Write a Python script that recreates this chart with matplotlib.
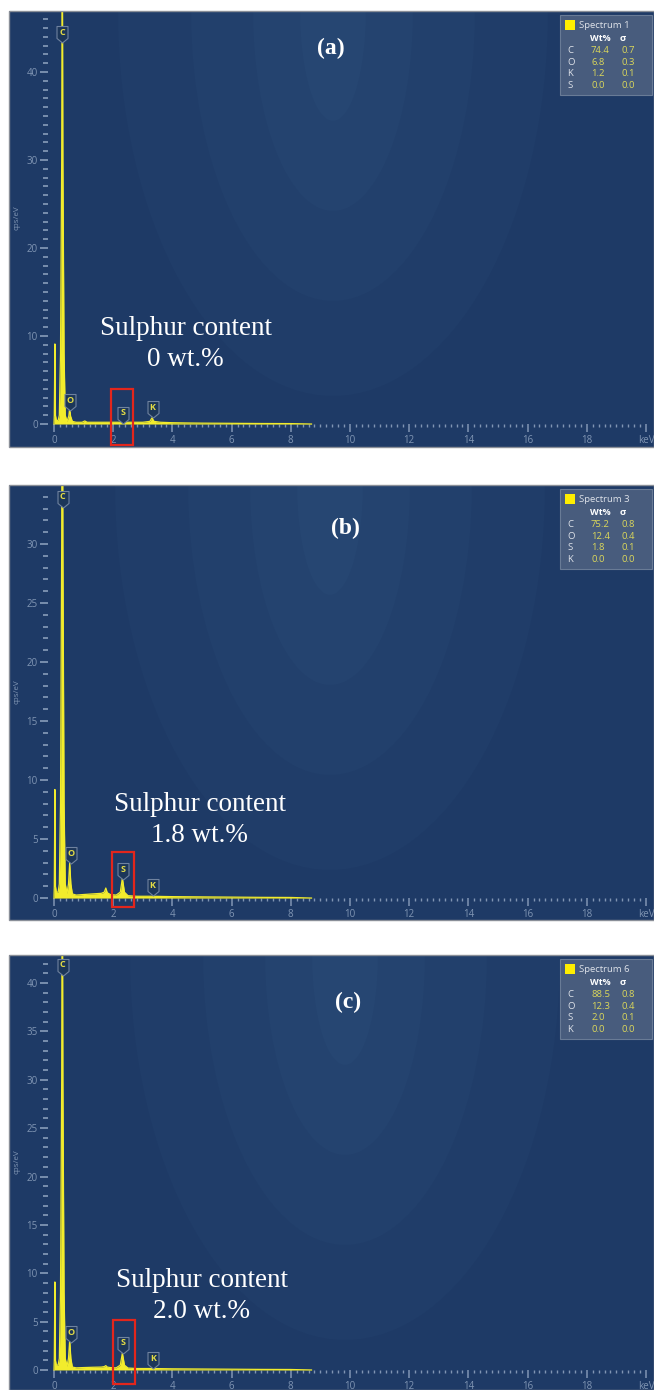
import numpy as np
import matplotlib.pyplot as plt
from matplotlib.patches import Rectangle, Ellipse
from matplotlib.path import Path
from matplotlib.ticker import FixedLocator

# widma EDS (keV, cps/eV)
energy_a = [0.00, 0.01, 0.03, 0.05, 0.08, 0.14, 0.18, 0.22, 0.26, 0.28, 0.30, 0.34, 0.38, 0.44, 0.50, 0.53, 0.56, 0.62, 0.75,
            0.95, 1.04, 1.12, 1.40, 1.80, 2.20, 2.60, 3.00, 3.24, 3.31, 3.38, 3.60, 4.00, 4.50, 5.00, 6.00, 7.00, 8.00, 8.70]
counts_a = [0.0, 1.0, 9.1, 1.0, 0.4, 0.4, 1.0, 8.0, 30.0, 60.0, 30.0, 8.0, 1.0, 0.3, 0.9, 1.8, 0.9, 0.3, 0.2,
            0.2, 0.35, 0.2, 0.2, 0.2, 0.2, 0.2, 0.2, 0.3, 0.7, 0.3, 0.2, 0.15, 0.12, 0.1, 0.08, 0.06, 0.05, 0.0]

energy_b = [0.00, 0.01, 0.03, 0.05, 0.08, 0.14, 0.18, 0.22, 0.26, 0.28, 0.30, 0.34, 0.38, 0.44, 0.49, 0.53, 0.57, 0.62, 0.75,
            1.00, 1.30, 1.60, 1.70, 1.75, 1.80, 1.90, 2.10, 2.24, 2.31, 2.38, 2.50, 2.80, 3.31, 4.00, 5.00, 6.00, 7.00, 8.00, 8.70]
counts_b = [0.0, 1.0, 9.2, 1.0, 0.5, 0.5, 1.2, 8.0, 30.0, 60.0, 30.0, 8.0, 1.2, 0.4, 1.2, 3.0, 1.2, 0.35, 0.25,
            0.3, 0.35, 0.4, 0.5, 0.85, 0.45, 0.3, 0.25, 0.5, 1.7, 0.5, 0.2, 0.15, 0.15, 0.12, 0.1, 0.08, 0.06, 0.05, 0.0]

energy_c = energy_b
counts_c = [0.0, 1.0, 9.1, 1.0, 0.5, 0.5, 1.2, 8.0, 30.0, 60.0, 30.0, 8.0, 1.2, 0.4, 1.2, 3.1, 1.2, 0.3, 0.22,
            0.25, 0.28, 0.3, 0.35, 0.45, 0.3, 0.25, 0.22, 0.5, 1.75, 0.5, 0.2, 0.15, 0.15, 0.12, 0.1, 0.08, 0.06, 0.05, 0.0]

# zakresy osi y i kroki podziałki
y_limits = [(-2.61, 46.93), (-1.86, 35.0), (-2.07, 42.9)]
y_major = [10, 5, 5]

# etykiety pików (pierwiastek, energia, wysokość znacznika)
tag_elements = ['C', 'O', 'S', 'K']
tag_energy = [[0.28, 0.54, 2.32, 3.33], [0.29, 0.56, 2.32, 3.33], [0.29, 0.57, 2.33, 3.34]]
tag_height = [[44.5, 2.7, 1.3, 1.9], [34.0, 3.8, 2.45, 1.1], [41.9, 3.9, 2.8, 1.2]]

# czerwone ramki wokół piku S (x0, x1, y0, y1)
red_boxes = [(1.93, 2.67, -2.4, 4.0), (1.96, 2.70, -0.76, 3.9), (2.0, 2.74, -1.45, 5.2)]

panel_labels = ['(a)', '(b)', '(c)']
sulphur_values = ['0 wt.%', '1.8 wt.%', '2.0 wt.%']
spectrum_names = ['Spectrum 1', 'Spectrum 3', 'Spectrum 6']
wt_elements = [['C', 'O', 'K', 'S'], ['C', 'O', 'S', 'K'], ['C', 'O', 'S', 'K']]
wt_values = [['74.4', '6.8', '1.2', '0.0'], ['75.2', '12.4', '1.8', '0.0'], ['88.5', '12.3', '2.0', '0.0']]
wt_sigma = [['0.7', '0.3', '0.1', '0.0'], ['0.8', '0.4', '0.1', '0.0'], ['0.8', '0.4', '0.1', '0.0']]

energies = [energy_a, energy_b, energy_c]
counts = [counts_a, counts_b, counts_c]

# położenie paneli w pikselach (góra, dół)
panel_px = [(11, 447), (485, 920), (955, 1390)]
text_x = [0.274, 0.296, 0.299]
text_y = [0.236, 0.23, 0.216]
label_xy = [(0.499, 0.915), (0.522, 0.899), (0.526, 0.89)]
ring_cx = [324, 321, 336]

bg_colors = ['#1e3a66', '#203d69', '#22406c', '#24436f', '#264672']
tick_c = '#8095b3'
yellow = '#f2ec2c'
ui_font = ['Open Sans', 'DejaVu Sans']

W_FIG, H_FIG = 654, 1390
fig = plt.figure(figsize=(6.54, 13.9), dpi=100)
fig.patch.set_facecolor('white')

# kształt znacznika piku (prostokąt ze szpicem)
tag_verts = [(-5.5, 6), (5.5, 6), (5.5, -6), (0, -10.5), (-5.5, -6), (-5.5, 6), (0, 0)]
tag_codes = [Path.MOVETO] + [Path.LINETO] * 5 + [Path.CLOSEPOLY]
tag_path = Path(tag_verts, tag_codes)

for i in range(3):
    top, bot = panel_px[i]
    H = bot - top
    W = 645
    pos = [9 / W_FIG, 1 - bot / H_FIG, W / W_FIG, H / H_FIG]

    # tło z jaśniejszymi elipsami
    bg = fig.add_axes(pos, zorder=0)
    bg.set_xlim(0, W)
    bg.set_ylim(H, 0)
    bg.axis('off')
    bg.add_patch(Rectangle((0, 0), W, H, fc=bg_colors[0], ec='none'))
    rings = [(215, 385), (142, 290), (80, 200), (33, 110)]
    for k, (rx, ry) in enumerate(rings):
        bg.add_patch(Ellipse((ring_cx[i], 0), 2 * rx, 2 * ry, fc=bg_colors[k + 1], ec='none'))

    ax = fig.add_axes(pos, zorder=1)
    ax.set_facecolor('none')
    ax.set_xlim(-1.52, 20.27)
    ax.set_ylim(*y_limits[i])

    ax.fill_between(energies[i], 0, counts[i], color=yellow, lw=0, zorder=3)
    ax.plot(energies[i], counts[i], color=yellow, lw=0.9, zorder=3)

    for sp in ax.spines.values():
        sp.set_visible(False)
    ax.spines['left'].set_position(('data', -0.2))
    ax.spines['bottom'].set_position(('data', 0))

    ymax = y_limits[i][1]
    ax.yaxis.set_major_locator(FixedLocator(np.arange(0, ymax, y_major[i])))
    ax.yaxis.set_minor_locator(FixedLocator(np.arange(0, ymax, 1)))
    xt = np.arange(0, 21, 2)
    ax.set_xticks(xt)
    ax.set_xticklabels([str(v) for v in xt[:-1]] + ['keV'])
    ax.xaxis.set_minor_locator(FixedLocator(np.arange(0, 20.01, 0.2)))

    ax.tick_params(axis='y', which='major', direction='out', length=6, width=1.3, color=tick_c,
                   labelsize=7, labelcolor=tick_c, pad=1.5)
    ax.tick_params(axis='y', which='minor', direction='out', length=3.5, width=1.3, color=tick_c)
    ax.tick_params(axis='x', which='major', direction='out', length=5.5, width=1.1, color=tick_c,
                   labelsize=7, labelcolor=tick_c, pad=2.5)
    ax.tick_params(axis='x', which='minor', direction='out', length=2.5, width=1.0, color=tick_c)
    for lab in ax.get_xticklabels() + ax.get_yticklabels():
        lab.set_family(ui_font)

    ax.text(8 / W, 0.525, 'cps/eV', transform=ax.transAxes, rotation=90, fontsize=5.8, color=tick_c,
            ha='center', va='center', family=ui_font)

    # znaczniki pierwiastków
    for el, e, h in zip(tag_elements, tag_energy[i], tag_height[i]):
        ax.plot([e], [h], marker=tag_path, markersize=15.1, mfc='#1c3659', mec='#6f829f', mew=0.8,
                zorder=5, clip_on=False)
        ax.text(e, h, el, ha='center', va='center', fontsize=6.5, color='#e3dc45', zorder=6,
                family=ui_font, fontweight='bold')

    x0, x1, y0, y1 = red_boxes[i]
    ax.add_patch(Rectangle((x0, y0), x1 - x0, y1 - y0, fill=False, ec='#e3261c', lw=1.6, zorder=7))

    ax.text(text_x[i], text_y[i], 'Sulphur content\n' + sulphur_values[i], transform=ax.transAxes,
            ha='center', va='center', fontsize=19.5, color='white', family='Liberation Serif',
            linespacing=1.3, zorder=8)
    ax.text(label_xy[i][0], label_xy[i][1], panel_labels[i], transform=ax.transAxes, ha='center',
            va='center', fontsize=17, color='white', family='Liberation Serif', fontweight='bold', zorder=8)

    # ramka panelu
    ax.add_patch(Rectangle((0, 0), 1, 1, transform=ax.transAxes, fill=False, ec='#8a8f98', lw=1.0,
                           clip_on=False, zorder=9))

    # tabelka Wt% w prawym górnym rogu
    bx, by = 551, 4

    def fx(px):
        return (bx + px) / W

    def fy(py):
        return 1 - (by + py) / H

    ax.add_patch(Rectangle((fx(0), fy(80)), 92 / W, 80 / H, transform=ax.transAxes, fc='#4b5e7f',
                           ec='#6d7e99', lw=0.8, zorder=10, alpha=0.95))
    ax.add_patch(Rectangle((fx(5), fy(14.5)), 9.5 / W, 9.5 / H, transform=ax.transAxes, fc='#ffee00',
                           ec='none', zorder=11))
    ax.text(fx(19), fy(10), spectrum_names[i], transform=ax.transAxes, fontsize=6.8, color='#dfe3ea',
            va='center', ha='left', family=ui_font, zorder=11)
    ax.text(fx(40), fy(23.5), 'Wt%', transform=ax.transAxes, fontsize=6.5, color='white', va='center',
            ha='center', fontweight='bold', family=ui_font, zorder=11)
    ax.text(fx(63), fy(23.5), 'σ', transform=ax.transAxes, fontsize=6.8, color='white', va='center',
            ha='center', fontweight='bold', family=ui_font, zorder=11)
    for r in range(4):
        yy = fy(35.5 + 11.6 * r)
        ax.text(fx(7), yy, wt_elements[i][r], transform=ax.transAxes, fontsize=6.8, color='#dfe3ea',
                va='center', ha='left', family=ui_font, zorder=11)
        ax.text(fx(31), yy, wt_values[i][r], transform=ax.transAxes, fontsize=6.8, color='#dcd85a',
                va='center', ha='left', family=ui_font, zorder=11)
        ax.text(fx(61), yy, wt_sigma[i][r], transform=ax.transAxes, fontsize=6.8, color='#dcd85a',
                va='center', ha='left', family=ui_font, zorder=11)

fig.savefig('out.png', dpi=100)
